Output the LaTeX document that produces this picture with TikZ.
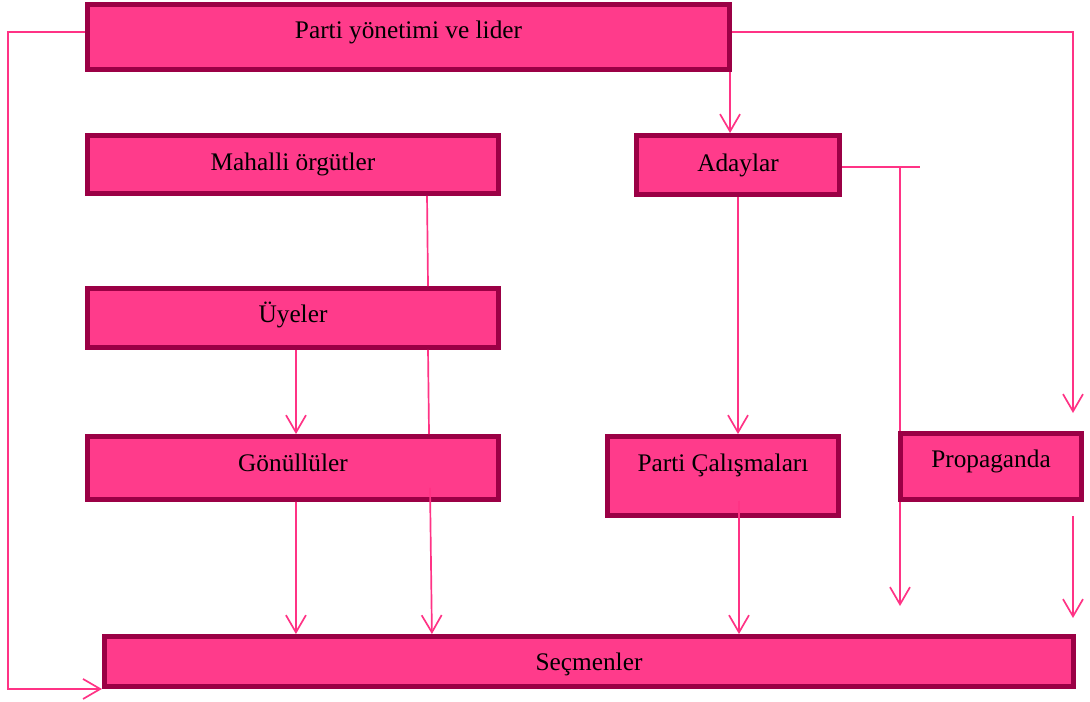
\documentclass[tikz,border=0pt]{standalone}
\usepackage{fontspec}
\setmainfont{Liberation Serif}
\usetikzlibrary{positioning, calc, arrows.meta}
\definecolor{boxfill}{HTML}{FF3B8B}
\definecolor{boxline}{HTML}{9B0045}
\definecolor{linkpink}{HTML}{FF3385}

\begin{document}
\begin{tikzpicture}[x=0.025cm, y=-0.025cm, font=\fontsize{18}{20}\selectfont,
		box/.style={draw=boxline, fill=boxfill, line width=3.5pt, inner sep=0pt, text height=12pt, text depth=#1},
		box/.default=4pt,
		link/.style={draw=linkpink, line width=1.2pt},
		conn/.style={link, -{Straight Barb[length=4.3mm, width=5mm]}} ]
		\useasboundingbox (0,0) rectangle (1090,702);
		\coordinate (tee) at (900,167);
		\coordinate (teeend) at (920,167);
		\coordinate (prl) at (900,606);
		\draw[conn] (tee) -- (prl);
		\node[box=9.2pt, minimum width=16.05cm, minimum height=1.625cm] (parti) at (408.5,37) {Parti yönetimi ve lider};
		\node[box=2.8pt, minimum width=10.275cm, minimum height=1.45cm] (mahalli) at (293,164.5) {Mahalli örgütler};
		\node[box=4.9pt, minimum width=10.275cm, minimum height=1.475cm] (uyeler) at (293,318) {Üyeler};
		\node[box=6.8pt, minimum width=10.275cm, minimum height=1.575cm] (gonullu) at (293,468) {Gönüllüler};
		\node[box=3.4pt, minimum width=5.075cm, minimum height=1.475cm] (adaylar) at (738,165) {Adaylar};
		\node[box=19.1pt, minimum width=5.775cm, minimum height=1.975cm] (calisma) at (723,476) {Parti Çalışmaları};
		\node[box=10.3pt, minimum width=4.525cm, minimum height=1.65cm] (propaganda) at (991,466.5) {Propaganda};
		\node[box=0.5pt, text height=14pt, minimum width=24.225cm, minimum height=1.25cm] (secmen) at (589,661.5) {Seçmenler};
		\coordinate (lft) at (8,689);
		\draw[conn] ($(parti.west)+(0,-5)$) -| (lft) -- (secmen.south west);
		\coordinate (rgt) at (1073,413);
		\draw[conn] ($(parti.east)+(0,-5)$) -| (rgt);
		\coordinate (pa) at ($(parti.south east)+(-2,0)$);
		\draw[conn] (pa) -- (pa |- adaylar.north);
		\draw[link] ($(mahalli.south east)+(-74,0)$) -- ($(uyeler.north east)+(-73,0)$);
		\draw[conn] ($(uyeler.south)+(3,0)$) -- ($(gonullu.north)+(3,0)$);
		\draw[link] ($(uyeler.south east)+(-73,0)$) -- ($(gonullu.north east)+(-72,0)$);
		\draw[conn] ($(gonullu.south east)+(-71,-14)$) -- ($(secmen.north west)+(330,0)$);
		\draw[conn] ($(gonullu.south)+(3,0)$) -- ($(secmen.north west)+(194,0)$);
		\draw[conn] (adaylar.south) -- (adaylar.south |- calisma.north);
		\coordinate (cs) at ($(calisma.south)+(16,-17)$);
		\draw[conn] (cs) -- (cs |- secmen.north);
		\draw[link] ($(adaylar.east)+(0,2)$) -- (teeend);
		\coordinate (pgt) at (1073,516);
		\coordinate (pgb) at (1073,618);
		\draw[conn] (pgt) -- (pgb);
	\end{tikzpicture}
\end{document}
